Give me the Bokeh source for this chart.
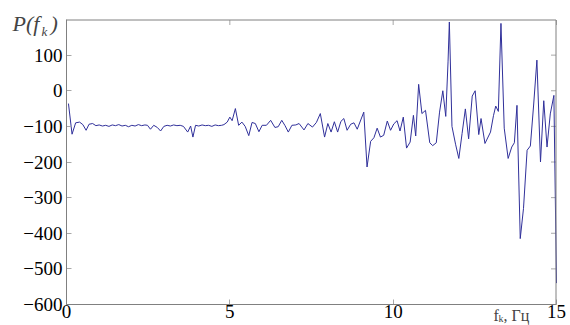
from bokeh.plotting import figure
from bokeh.models import Range1d, LinearAxis, FixedTicker, Label, BoxAnnotation
from bokeh.embed import file_html
from bokeh.resources import INLINE

# frequency f_k, Hz
freq = [0.06, 0.17, 0.28, 0.40, 0.50, 0.60, 0.69, 0.80, 0.90, 1.00,
        1.10, 1.20, 1.30, 1.40, 1.50, 1.60, 1.70, 1.80, 1.90, 2.00,
        2.10, 2.20, 2.30, 2.40, 2.48, 2.57, 2.67, 2.78, 2.88, 2.98,
        3.08, 3.18, 3.28, 3.38, 3.48, 3.58, 3.71, 3.80, 3.87, 3.95,
        4.05, 4.15, 4.25, 4.35, 4.45, 4.55, 4.65, 4.75, 4.82, 4.92,
        5.00, 5.07, 5.17, 5.27, 5.37, 5.47, 5.58, 5.68, 5.78, 5.89,
        5.99, 6.12, 6.25, 6.38, 6.48, 6.59, 6.69, 6.79, 6.90, 7.02,
        7.12, 7.27, 7.39, 7.53, 7.65, 7.77, 7.90, 8.00, 8.10, 8.20,
        8.30, 8.40, 8.49, 8.59, 8.70, 8.80, 8.90, 9.10, 9.20, 9.31,
        9.41, 9.51, 9.61, 9.71, 9.82, 9.92, 10.02, 10.12, 10.21, 10.31,
        10.41, 10.52, 10.62, 10.69, 10.78, 10.88, 10.99, 11.12, 11.21, 11.32,
        11.42, 11.52, 11.61, 11.68, 11.72, 11.80, 11.91, 12.01, 12.11, 12.21,
        12.31, 12.42, 12.51, 12.62, 12.69, 12.81, 12.98, 13.07, 13.14, 13.22,
        13.30, 13.40, 13.52, 13.63, 13.71, 13.79, 13.89, 13.99, 14.10, 14.20,
        14.30, 14.40, 14.51, 14.61, 14.71, 14.81, 14.92, 15.00]

# spectrum P(f_k)
power = [-36, -122, -90, -88, -95, -111, -94, -92, -98, -96,
         -99, -97, -100, -96, -98, -95, -99, -97, -101, -97,
         -99, -95, -98, -96, -97, -108, -97, -103, -113, -100,
         -97, -99, -96, -98, -97, -100, -116, -99, -130, -97,
         -99, -96, -98, -97, -100, -96, -98, -97, -95, -88,
         -74, -84, -50, -97, -88, -100, -126, -89, -92, -115,
         -97, -97, -83, -103, -101, -83, -98, -116, -97, -96,
         -92, -110, -92, -102, -89, -64, -130, -92, -116, -87,
         -116, -86, -78, -111, -94, -90, -108, -60, -214, -142,
         -132, -105, -130, -125, -85, -111, -93, -84, -113, -74,
         -161, -144, -69, -127, 18, -64, -55, -146, -154, -146,
         -60, 0, -72, 81, 193, -100, -150, -190, -120, -51,
         -135, -15, 0, -123, -78, -148, -116, -70, -43, -58,
         189, -105, -190, -158, -146, -41, -415, -330, -167, -155,
         -40, 86, -200, -28, -158, -65, -13, -540]

x_ticks = [0, 5, 10, 15]
y_ticks = [-600, -500, -400, -300, -200, -100, 0, 100]
x_lim = (0, 15)
y_lim = (-600, 200)

# layout (pixels): the frame covers the canvas, the box is drawn separately
W, H = 570, 325
BOX_L, BOX_R, BOX_T, BOX_B = 66, 556, 19, 304
TICK = 5
sx = (BOX_R - BOX_L) / (x_lim[1] - x_lim[0])
sy = (BOX_B - BOX_T) / (y_lim[1] - y_lim[0])
x_range = Range1d(x_lim[0] - BOX_L / sx, x_lim[1] + (W - BOX_R) / sx)
y_range = Range1d(y_lim[0] - (H - BOX_B) / sy, y_lim[1] + BOX_T / sy)
edge_r = x_lim[1] - 0.5 / sx
edge_t = y_lim[1] - 0.5 / sy

FONT = "Liberation Serif"
GRAY = "#808080"
TICK_GRAY = "#a8a8a8"

p = figure(width=W, height=H, output_backend="svg", toolbar_location=None,
           x_range=x_range, y_range=y_range, x_axis_location=None,
           y_axis_location=None, min_border=0)
p.min_border_left = p.min_border_right = p.min_border_top = p.min_border_bottom = 0
p.background_fill_color = "white"
p.border_fill_color = "white"
p.outline_line_color = None
p.grid.visible = False

# box around the axes area (annotation, from the axis limits)
p.add_layout(BoxAnnotation(left=x_lim[0], right=edge_r, bottom=y_lim[0], top=edge_t,
                           fill_color=None, fill_alpha=0, line_color=GRAY,
                           line_width=1, line_alpha=1, level="overlay",
                           editable=False))
# inward tick marks on the right and top edges
p.segment(x0=[edge_r] * len(y_ticks), y0=y_ticks,
          x1=[edge_r - TICK / sx] * len(y_ticks), y1=y_ticks,
          line_color=TICK_GRAY, line_width=1)
p.segment(x0=x_ticks, y0=[edge_t] * len(x_ticks),
          x1=x_ticks, y1=[edge_t - TICK / sy] * len(x_ticks),
          line_color=TICK_GRAY, line_width=1)

p.line(freq, power, line_color="#30309a", line_width=1)

def make_axis(place, loc, ticks, bounds):
    ax = LinearAxis(fixed_location=loc, bounds=bounds)
    ax.ticker = FixedTicker(ticks=ticks)
    ax.axis_line_color = GRAY
    ax.axis_line_width = 1
    ax.major_tick_in = TICK
    ax.major_tick_out = 0
    ax.major_tick_line_color = TICK_GRAY
    ax.minor_tick_line_color = None
    ax.major_label_text_font = FONT
    ax.major_label_text_color = "black"
    ax.major_label_text_font_size = "19px"
    p.add_layout(ax, place)
    return ax

left = make_axis("left", x_lim[0], y_ticks, y_lim)
left.major_label_standoff = 4
bottom = make_axis("below", y_lim[0], x_ticks, x_lim)
bottom.major_label_standoff = 0

# y label P(f_k)
p.add_layout(Label(x=x_lim[0], y=y_lim[1], x_offset=-54, y_offset=-4, text="P(f",
                   text_font=FONT, text_font_style="italic",
                   text_font_size="22px", text_baseline="alphabetic"))
p.add_layout(Label(x=x_lim[0], y=y_lim[1], x_offset=-25, y_offset=-12, text="k",
                   text_font=FONT, text_font_style="italic",
                   text_font_size="13px", text_baseline="alphabetic"))
p.add_layout(Label(x=x_lim[0], y=y_lim[1], x_offset=-16, y_offset=-4, text=")",
                   text_font=FONT, text_font_style="italic",
                   text_font_size="22px", text_baseline="alphabetic"))

# x label f_k, Гц
p.add_layout(Label(x=x_lim[1], y=y_lim[0], x_offset=-63, y_offset=-11, text="f",
                   text_font=FONT, text_font_size="16px",
                   text_baseline="alphabetic"))
p.add_layout(Label(x=x_lim[1], y=y_lim[0], x_offset=-58, y_offset=-14, text="k",
                   text_font=FONT, text_font_size="10px",
                   text_baseline="alphabetic"))
p.add_layout(Label(x=x_lim[1], y=y_lim[0], x_offset=-53, y_offset=-11, text=", Гц",
                   text_font=FONT, text_font_size="16px",
                   text_baseline="alphabetic"))

open("out.html", "w").write(file_html(p, INLINE))
